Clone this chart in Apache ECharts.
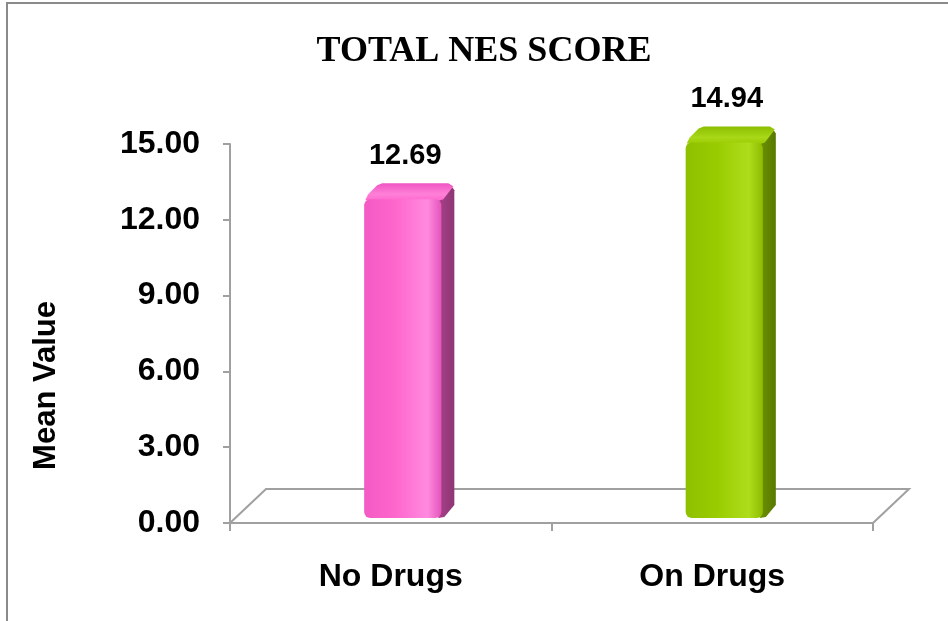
<!DOCTYPE html>
<html>
<head>
<meta charset="utf-8">
<script src="https://cdn.jsdelivr.net/npm/echarts@6/dist/echarts.min.js"></script>
<style>
html,body{margin:0;padding:0;background:#fff;}
#c{width:948px;height:621px;}
</style>
</head>
<body>
<div id="c"></div>
<script>
// ---- data ----
const categories = ['No Drugs', 'On Drugs'];
const meanValues = [12.69, 14.94];
const yMin = 0, yMax = 15, yInterval = 3;
const titleText = 'TOTAL NES SCORE';
const yAxisName = 'Mean Value';

// ---- styles ----
const barColors = [
  {left:'#F35AC4', mid:'#FF66CC', hi:'#FF8ADF', right:'#E455BA', side:'#A8408A', sideDark:'#8E3574', top:'#F055C2', topHi:'#FF80D8'},
  {left:'#8FC000', mid:'#99CC00', hi:'#AEDD1C', right:'#8DBB00', side:'#6C9300', sideDark:'#587800', top:'#8CBE00', topHi:'#A8D818'}
];
const axisGray = '#A0A0A0';
const sansBold = {fontFamily:'Liberation Sans, Arial, sans-serif', fontWeight:'bold', color:'#000'};

const chart = echarts.init(document.getElementById('c'), null, {renderer:'canvas'});

const depth = 13;       // bar 3D depth offset (px)
const floorDx = 36, floorDy = 34;

function renderBar(params, api) {
  const i = api.value(0);
  const v = api.value(1);
  const top = api.coord([i, v]);
  const base = api.coord([i, 0]);
  const band = api.size([1, 0])[0];
  const bw = band * 0.24;
  const x0 = top[0] - bw / 2, x1 = top[0] + bw / 2;
  const yt = top[1], yb = base[1];
  const c = barColors[params.dataIndex];
  const d = depth;
  return {
    type: 'group',
    children: [
      { type:'polygon', shape:{points:[[x1-3,yt+2],[x1+d-2,yt-d+3],[x1+d,yt-d+6],[x1+d,yb-d],[x1+3,yb-1],[x1-3,yb]]},
        style:{fill:new echarts.graphic.LinearGradient(0,0,1,0,[{offset:0,color:c.side},{offset:1,color:c.sideDark}])} },
      { type:'polygon', shape:{points:[[x0+1,yt+3],[x0+4,yt-3],[x0+d,yt-d+1],[x0+d+5,yt-d-1],[x1+d-6,yt-d-1],[x1+d-1,yt-d+2],[x1+2,yt+2],[x1-4,yt+4]]},
        style:{fill:new echarts.graphic.LinearGradient(0,0,0,1,[{offset:0,color:c.top},{offset:0.6,color:c.topHi},{offset:1,color:c.mid}])} },
      { type:'rect', shape:{x:x0, y:yt+2, width:bw, height:yb-yt-2, r:[6,6,6,6]},
        style:{fill:new echarts.graphic.LinearGradient(0,0,1,0,[
          {offset:0,color:c.left},{offset:0.4,color:c.mid},{offset:0.82,color:c.hi},{offset:1,color:c.right}])} },
      { type:'text', style:{text:v.toFixed(2), x:top[0]+d/2-4, y:yt-d-14, align:'center', verticalAlign:'bottom',
        font:'bold 29px "Liberation Sans", Arial, sans-serif', fill:'#000'} }
    ]
  };
}

function renderFloor(params, api) {
  const band = api.size([1, 0])[0];
  const first = api.coord([0, 0]);
  const lastIdx = categories.length - 1;
  const last = api.coord([lastIdx, 0]);
  const xl = first[0] - band / 2, xr = last[0] + band / 2, y = first[1];
  const ls = {stroke:axisGray, lineWidth:2, fill:null};
  return {
    type:'group',
    children:[
      {type:'polyline', shape:{points:[[xl,y],[xl+floorDx,y-floorDy],[xr+floorDx,y-floorDy],[xr,y]]}, style:ls}
    ]
  };
}

const option = {
  backgroundColor:'#fff',
  animation:false,
  title:{
    text:titleText, left:479, top:29, textAlign:'center',
    textStyle:{fontFamily:'Liberation Serif, Times New Roman, serif', fontWeight:'bold', fontSize:36, color:'#000'}
  },
  graphic:[{type:'rect', shape:{x:7, y:3, width:1000, height:700}, style:{fill:null, stroke:'#8A8A8A', lineWidth:2}, silent:true}],
  grid:[
    {left:230, right:75, top:144, bottom:98},
    {left:242, right:63, top:139, bottom:103}
  ],
  xAxis:[
    {type:'category', gridIndex:0, data:categories, boundaryGap:true,
     axisLine:{lineStyle:{color:axisGray, width:2}},
     axisTick:{show:true, length:8, lineStyle:{color:axisGray, width:2}},
     axisLabel:Object.assign({fontSize:32, margin:38}, sansBold),
     splitLine:{show:false}},
    {type:'category', gridIndex:1, data:categories, show:false}
  ],
  yAxis:[
    {type:'value', gridIndex:0, min:yMin, max:yMax, interval:yInterval,
     name:yAxisName, nameLocation:'middle', nameGap:168, nameRotate:90,
     nameTextStyle:Object.assign({fontSize:31, padding:[0,104,0,0]}, sansBold),
     axisLine:{show:true, lineStyle:{color:axisGray, width:2}},
     axisTick:{show:true, length:7, lineStyle:{color:axisGray, width:2}},
     axisLabel:Object.assign({fontSize:32, margin:30, formatter:v=>v.toFixed(2)}, sansBold),
     splitLine:{show:false}},
    {type:'value', gridIndex:1, min:yMin, max:yMax, interval:yInterval, show:false}
  ],
  series:[
    {type:'custom', xAxisIndex:0, yAxisIndex:0, renderItem:renderFloor, data:[[0,0]], z:1, silent:true},
    {type:'custom', xAxisIndex:1, yAxisIndex:1, renderItem:renderBar,
     data:categories.map((c,i)=>[i, meanValues[i]]), z:3, silent:true}
  ]
};
chart.setOption(option);
</script>
</body>
</html>
